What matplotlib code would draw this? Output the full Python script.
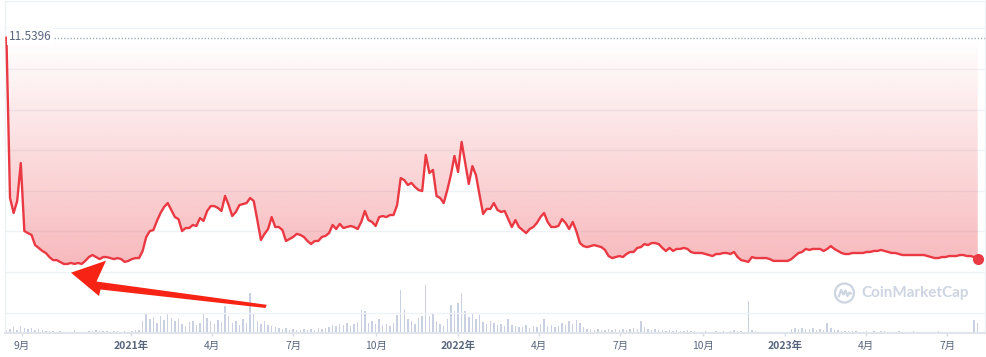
import numpy as np
import pandas as pd
import matplotlib
matplotlib.use('Agg')
import matplotlib.pyplot as plt
import matplotlib.dates as mdates
import matplotlib.transforms as mtransforms
from matplotlib.colors import to_rgb
from matplotlib.patches import Polygon, Circle

plt.rcParams['font.family'] = ['Noto Sans CJK SC', 'DejaVu Sans']

# price every 4 days (USD)
start_date = '2020-08-15'
prices = [
    11.54, 3.65, 2.91, 3.50, 5.37, 2.02, 1.92, 1.83, 1.33, 1.19,
    1.04, 0.94, 0.74, 0.59, 0.59, 0.50, 0.40, 0.40, 0.45, 0.40,
    0.45, 0.40, 0.55, 0.74, 0.84, 0.74, 0.64, 0.74, 0.74, 0.69,
    0.64, 0.69, 0.64, 0.50, 0.55, 0.64, 0.69, 0.69, 1.04, 1.73,
    2.02, 2.07, 2.52, 2.91, 3.21, 3.40, 3.06, 2.71, 2.61, 2.02,
    2.17, 2.17, 2.32, 2.27, 2.66, 2.52, 3.01, 3.25, 3.25, 3.16,
    3.01, 3.75, 3.30, 2.76, 2.96, 3.30, 3.35, 3.40, 3.65, 3.50,
    2.56, 1.58, 1.88, 2.12, 2.71, 2.22, 2.22, 2.07, 1.53, 1.63,
    1.73, 1.88, 1.83, 1.73, 1.53, 1.38, 1.53, 1.53, 1.73, 1.78,
    1.92, 2.32, 2.12, 2.37, 2.17, 2.22, 2.27, 2.22, 2.12, 2.47,
    3.01, 2.56, 2.47, 2.27, 2.71, 2.76, 2.71, 2.81, 2.81, 3.30,
    4.63, 4.53, 4.29, 4.39, 4.19, 4.04, 3.99, 5.77, 4.88, 5.03,
    3.75, 3.65, 3.40, 4.04, 4.78, 5.72, 4.93, 6.41, 5.37, 4.34,
    5.22, 4.78, 3.80, 2.86, 3.11, 3.11, 3.40, 3.06, 2.96, 3.01,
    2.61, 2.22, 2.56, 2.22, 2.07, 1.92, 2.12, 2.22, 2.42, 2.71,
    2.91, 2.47, 2.22, 2.22, 2.27, 2.61, 2.42, 2.12, 2.47, 2.02,
    1.43, 1.28, 1.23, 1.28, 1.33, 1.28, 1.23, 1.09, 0.79, 0.69,
    0.74, 0.79, 0.74, 0.89, 0.99, 0.99, 1.19, 1.23, 1.38, 1.33,
    1.43, 1.43, 1.38, 1.19, 1.04, 1.19, 1.04, 1.14, 1.14, 1.19,
    1.14, 0.99, 0.94, 0.94, 0.94, 0.89, 0.84, 0.79, 0.89, 0.89,
    0.94, 0.94, 0.89, 0.99, 0.74, 0.59, 0.55, 0.50, 0.74, 0.69,
    0.69, 0.69, 0.69, 0.64, 0.55, 0.55, 0.55, 0.55, 0.55, 0.64,
    0.79, 0.94, 0.99, 1.14, 1.09, 1.14, 1.14, 1.14, 1.04, 1.14,
    1.28, 1.14, 1.04, 0.94, 0.89, 0.89, 0.94, 0.94, 0.94, 0.94,
    0.99, 0.99, 1.04, 1.04, 1.09, 1.04, 0.99, 0.94, 0.94, 0.89,
    0.84, 0.84, 0.84, 0.84, 0.84, 0.84, 0.84, 0.79, 0.74, 0.69,
    0.69, 0.74, 0.74, 0.79, 0.79, 0.79, 0.84, 0.84, 0.79, 0.79,
    0.74, 0.64,
]

# volume (millions), same 4-day steps
volume = [
    3, 4, 6, 3, 7, 5, 4, 5, 3, 4,
    3, 2, 2, 2, 1, 2, 1, 1, 1, 3,
    1, 1, 1, 2, 2, 3, 2, 2, 2, 1,
    2, 2, 1, 2, 1, 2, 3, 3, 12, 20,
    14, 16, 10, 17, 13, 19, 15, 12, 14, 9,
    7, 11, 12, 8, 10, 20, 15, 12, 9, 13,
    11, 27, 17, 10, 12, 8, 14, 10, 40, 20,
    12, 9, 12, 8, 7, 6, 5, 4, 5, 3,
    4, 3, 3, 4, 3, 4, 3, 5, 4, 5,
    6, 8, 7, 9, 8, 10, 7, 9, 11, 23,
    22, 10, 12, 9, 14, 8, 9, 7, 10, 18,
    43, 24, 14, 12, 9, 15, 17, 48, 17, 20,
    12, 9, 7, 14, 28, 22, 30, 40, 22, 16,
    20, 14, 18, 11, 9, 12, 10, 8, 9, 7,
    14, 8, 7, 6, 6, 8, 5, 7, 6, 9,
    14, 7, 8, 6, 7, 10, 8, 12, 9, 13,
    10, 6, 4, 4, 3, 4, 3, 3, 4, 3,
    4, 3, 4, 3, 4, 5, 4, 12, 6, 4,
    3, 4, 3, 3, 2, 3, 2, 3, 2, 2,
    3, 2, 2, 1, 1, 2, 1, 1, 2, 1,
    2, 1, 2, 3, 2, 2, 1, 32, 3, 2,
    1, 1, 1, 1, 1, 1, 1, 1, 1, 4,
    5, 4, 5, 4, 4, 5, 3, 4, 3, 10,
    5, 3, 3, 2, 2, 2, 2, 2, 1, 1,
    2, 1, 2, 1, 2, 2, 1, 1, 1, 2,
    1, 1, 1, 2, 1, 1, 1, 1, 1, 1,
    2, 1, 1, 1, 1, 1, 1, 1, 1, 1,
    13, 10,
]

open_price = 11.5396
tick_dates = ['2020-09-01', '2021-01-01', '2021-04-01', '2021-07-01',
              '2021-10-01', '2022-01-01', '2022-04-01', '2022-07-01',
              '2022-10-01', '2023-01-01', '2023-04-01', '2023-07-01']
tick_labels = ['9月', '2021年', '4月', '7月', '10月', '2022年', '4月', '7月',
               '10月', '2023年', '4月', '7月']

dates = pd.date_range(start_date, periods=len(prices), freq='4D')
red = '#ea3943'
grey_txt = '#58667e'
grid_c = '#eff2f5'

fig = plt.figure(figsize=(9.86, 3.57), dpi=100)
ax = fig.add_axes([5 / 986, 1 - 333 / 357, 980 / 986, 332 / 357])
ax2 = ax.twinx()

# volume bars underneath
ax2.bar(dates, volume, width=1.6, color='#c9d0e2', linewidth=0)
ax2.set_ylim(0, 332)
ax2.axis('off')
ax.set_zorder(ax2.get_zorder() + 1)
ax.patch.set_visible(False)

# price line
ax.plot(dates, prices, color=red, lw=1.7, zorder=4, solid_joinstyle='round')
ax.plot(dates[-1], prices[-1], 'o', color=red, ms=7, zorder=5)

# gradient between the line and the opening price
x0 = mdates.date2num(dates[0])
x1 = mdates.date2num(dates[-1])
grad = np.zeros((256, 1, 4))
grad[..., :3] = to_rgb(red)
grad[:, 0, 3] = np.linspace(0.35, 0.0, 256)
im = ax.imshow(grad, extent=[x0, x1, min(prices), open_price], origin='lower',
               aspect='auto', zorder=2, interpolation='bilinear')
fill = ax.fill_between(dates, prices, open_price, facecolor='none', edgecolor='none')
im.set_clip_path(fill.get_paths()[0], transform=ax.transData)

# dotted opening price line + label
ax.axhline(open_price, xmin=0.05, color='#a5adbb', lw=1, ls=(0, (1, 1.3)), zorder=3)
trans = mtransforms.blended_transform_factory(ax.transAxes, ax.transData)
ax.text(0.004, open_price + 0.05, '11.5396', transform=trans, ha='left', va='center',
        fontsize=8.5, color=grey_txt, zorder=6,
        bbox=dict(fc='white', ec='none', pad=1.5))

# axes limits (px -> date mapping of the original chart)
base = mdates.date2num(pd.Timestamp('2021-01-01'))
ax.set_xlim(base - 140.6, base + 953.1)
ax.set_ylim(-3.0, 13.35)

ax.set_yticks([12, 10, 8, 6, 4, 2, 0, -2])
ax.yaxis.grid(True, color=grid_c, lw=1, zorder=0)
ax.tick_params(axis='y', length=0, labelleft=False)

ax.set_xticks(mdates.date2num(pd.to_datetime(tick_dates)))
ax.set_xticklabels(tick_labels)
ax.tick_params(axis='x', length=2.5, width=1, color='#d5dae3', pad=3,
               labelsize=7.5, labelcolor=grey_txt)
for lab in ax.get_xticklabels():
    if lab.get_text().endswith('年'):
        lab.set_fontweight('bold')

for s in ['top', 'left', 'right']:
    ax.spines[s].set_color(grid_c)
    ax.spines[s].set_linewidth(1)
ax.spines['bottom'].set_color('#e0e4eb')
ax.spines['bottom'].set_linewidth(1.5)

# watermark
inch = fig.dpi_scale_trans
wm = '#cdd4e2'
fig.patches.append(Circle((844.5 / 100, (357 - 293) / 100), 0.095, transform=inch,
                          fill=False, ec=wm, lw=1.6))
wx = np.array([-5.5, -3.5, -1.0, 1.0, 3.0, 5.0, 6.5]) / 100 + 844.5 / 100
wy = np.array([-3.0, 3.0, -1.5, 2.5, -3.0, 0.5, -0.5]) / 100 + (357 - 293) / 100
fig.lines.append(plt.Line2D(wx, wy, transform=inch, color=wm, lw=1.6))
fig.text(861 / 986, 1 - 293 / 357, 'CoinMarketCap', ha='left', va='center',
         fontsize=11, color=wm, fontweight='bold', family='Lato')

# red arrow annotation
arrow_px = [(71, 272.7), (106, 260.7), (96.5, 281.5), (266.7, 304.8),
            (265.5, 308.0), (100.5, 289.5), (99, 296)]
arrow_in = [(x / 100, (357 - y) / 100) for x, y in arrow_px]
fig.patches.append(Polygon(arrow_in, closed=True, transform=inch,
                           fc='#f72416', ec='none', zorder=10))

plt.savefig('out.png', dpi=100)
